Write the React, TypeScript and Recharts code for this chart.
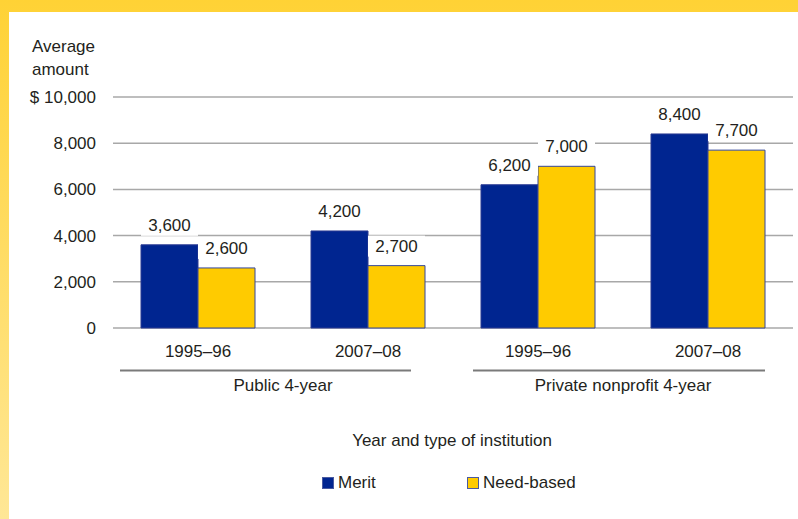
import React from 'react';
import { BarChart, Bar, XAxis, YAxis, CartesianGrid, LabelList, Legend } from 'recharts';

const years = ['1995–96', '2007–08', '1995–96', '2007–08'];
const groups = ['Public 4-year', 'Public 4-year', 'Private nonprofit 4-year', 'Private nonprofit 4-year'];
const merit = [3600, 4200, 6200, 8400];
const needBased = [2600, 2700, 7000, 7700];
const yTicks = [0, 2000, 4000, 6000, 8000, 10000];

const data = years.map((year, i) => ({
  key: `${groups[i]}-${year}`,
  year,
  group: groups[i],
  merit: merit[i],
  need: needBased[i],
}));

const FONT = '"Liberation Sans", Arial, sans-serif';
const INK = '#231f20';

const fmt = (v: number) => (v === 10000 ? '$ 10,000' : v.toLocaleString('en-US'));

// value label with a white patch so the gridline breaks behind it
const ValueLabel = (props: any) => {
  const { x, y, width, value } = props;
  const cx = x + width / 2;
  const base = y - 14;
  return (
    <g>
      <rect x={x} y={base - 16} width={width} height={21} fill="#fff" />
      <text x={cx} y={base} textAnchor="middle" fontSize={17} fill={INK} fontFamily={FONT}>
        {fmt(value)}
      </text>
    </g>
  );
};

const YearTick = (props: any) => {
  const { x, y, payload } = props;
  return (
    <text x={x} y={y} dy="0.71em" textAnchor="middle" fontSize={17} fill={INK} fontFamily={FONT}>
      {years[payload.index] ?? payload.value}
    </text>
  );
};

const GroupTick = (props: any) => {
  const { x, y, payload, index } = props;
  const span = index === 0 ? [-163, 128] : [-150, 142];
  return (
    <g>
      <line x1={x + span[0]} x2={x + span[1]} y1={y + 12.5} y2={y + 12.5} stroke="#7a7a7a" strokeWidth={2} />
      <text x={x} y={y + 33} textAnchor="middle" fontSize={17} fill={INK} fontFamily={FONT}>
        {payload.value}
      </text>
    </g>
  );
};

const LegendContent = (props: any) => {
  const { payload } = props;
  return (
    <div style={{ position: 'relative', height: 20, fontFamily: FONT, fontSize: 17, color: INK }}>
      {(payload || []).map((p: any, i: number) => (
        <div
          key={p.value}
          style={{ position: 'absolute', left: 322 + i * 145, top: 0, display: 'flex', alignItems: 'center', lineHeight: '17px' }}
        >
          <span
            style={{
              width: 10,
              height: 10,
              background: p.color,
              border: '1px solid #4a5aa0',
              marginRight: 4,
              display: 'inline-block',
            }}
          />
          <span>{p.value}</span>
        </div>
      ))}
    </div>
  );
};

export default function App() {
  return (
    <div
      style={{
        position: 'fixed',
        left: 0,
        top: 0,
        width: 798,
        height: 519,
        background: 'linear-gradient(#ffd235, #ffe796)',
        overflow: 'hidden',
        fontFamily: FONT,
        color: INK,
      }}
    >
      <div style={{ position: 'absolute', left: 9, top: 12, right: 0, bottom: 0, background: '#fff' }} />
      <div style={{ position: 'absolute', left: 32, top: 38, fontSize: 17, lineHeight: '17px' }}>Average</div>
      <div style={{ position: 'absolute', left: 32, top: 61, fontSize: 17, lineHeight: '17px' }}>amount</div>
      <div
        style={{
          position: 'absolute',
          left: 452,
          top: 432,
          transform: 'translateX(-50%)',
          whiteSpace: 'nowrap',
          fontSize: 17,
          lineHeight: '17px',
        }}
      >
        Year and type of institution
      </div>
      <div style={{ position: 'absolute', left: 0, top: 0 }}>
        <BarChart
          width={798}
          height={519}
          data={data}
          margin={{ top: 97, right: 5, left: 0, bottom: 91 }}
          barCategoryGap={28}
          barGap={0}
        >
          <CartesianGrid vertical={false} stroke="#a8a8a8" strokeWidth={1.5} />
          <XAxis
            dataKey="key"
            height={30}
            axisLine={false}
            tickLine={false}
            tickSize={0}
            tickMargin={17}
            interval={0}
            tick={<YearTick />}
          />
          <XAxis
            xAxisId="grp"
            dataKey="group"
            allowDuplicatedCategory={false}
            height={50}
            axisLine={false}
            tickLine={false}
            tickSize={0}
            tickMargin={0}
            interval={0}
            tick={<GroupTick />}
          />
          <YAxis
            width={113}
            domain={[0, 10000]}
            ticks={yTicks}
            axisLine={false}
            tickLine={false}
            tickSize={0}
            tickMargin={17}
            tickFormatter={fmt}
            tick={{ fontSize: 17, fill: INK, fontFamily: FONT }}
          />
          <Legend
            verticalAlign="bottom"
            wrapperStyle={{ position: 'absolute', top: 474, left: 0, width: 798, height: 20 }}
            content={<LegendContent />}
          />
          <Bar dataKey="merit" name="Merit" fill="#002590" stroke="#2a3a92" strokeWidth={1} isAnimationActive={false}>
            <LabelList dataKey="merit" content={<ValueLabel />} />
          </Bar>
          <Bar dataKey="need" name="Need-based" fill="#ffcb00" stroke="#34479a" strokeWidth={1} isAnimationActive={false}>
            <LabelList dataKey="need" content={<ValueLabel />} />
          </Bar>
        </BarChart>
      </div>
    </div>
  );
}
